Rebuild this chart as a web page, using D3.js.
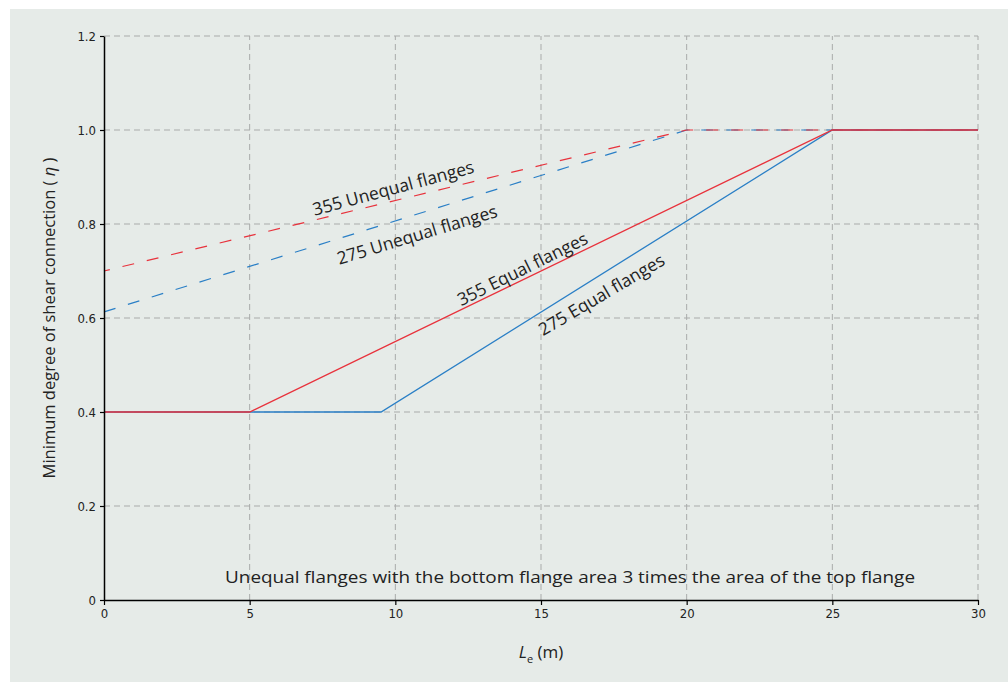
<!DOCTYPE html>
<html><head><meta charset="utf-8">
<script src="https://cdn.jsdelivr.net/npm/d3@7"></script>
<style>
html,body{margin:0;padding:0;background:#fff;}
svg{display:block;}
</style></head>
<body>
<svg id="chart" width="1008" height="682"></svg>
<script>
// ---- data ----
const xTicks = [0, 5, 10, 15, 20, 25, 30];
const yTicks = [0, 0.2, 0.4, 0.6, 0.8, 1.0, 1.2];
const yTickLabels = ["0", "0.2", "0.4", "0.6", "0.8", "1.0", "1.2"];
const unequal275 = [[0, 0.613], [20, 1.0], [30, 1.0]];
const unequal355 = [[0, 0.70], [20, 1.0], [30, 1.0]];
const equal275 = [[0, 0.4], [9.51, 0.4], [25, 1.0], [30, 1.0]];
const equal355 = [[0, 0.4], [5, 0.4], [25, 1.0], [30, 1.0]];
const seriesLabels = [
  {text: "355 Unequal flanges", x: 9.92, y: 0.878, series: unequal355, extra: -1.5},
  {text: "275 Unequal flanges", x: 10.74, y: 0.779, series: unequal275, extra: 0.5},
  {text: "355 Equal flanges", x: 14.35, y: 0.706, series: equal355, extra: -0.5},
  {text: "275 Equal flanges", x: 17.06, y: 0.651, series: equal275, extra: 1.5}
];
const noteText = "Unequal flanges with the bottom flange area 3 times the area of the top flange";

const RED = "#e8323c", BLUE = "#2a7fc6";

const svg = d3.select("#chart");
svg.append("rect").attr("x", 10).attr("y", 9).attr("width", 998).attr("height", 673).attr("fill", "#e6ebe8");

const x = d3.scaleLinear().domain([0, 30]).range([104, 978]);
const y = d3.scaleLinear().domain([0, 1.2]).range([600, 36]);

// grid
const grid = svg.append("g");
grid.selectAll(".hg").data(yTicks.filter(d => d > 0)).join("line")
  .attr("x1", x(0)).attr("x2", x(30)).attr("y1", d => y(d)).attr("y2", d => y(d))
  .attr("stroke", "#a9abaa").attr("stroke-width", 1).attr("stroke-dasharray", "6,4");
grid.selectAll(".vg").data(xTicks.filter(d => d > 0)).join("line")
  .attr("x1", d => x(d)).attr("x2", d => x(d)).attr("y1", y(0)).attr("y2", y(1.2))
  .attr("stroke", "#a9abaa").attr("stroke-width", 1).attr("stroke-dasharray", "6,4");

// lines
const line = d3.line().x(d => x(d[0])).y(d => y(d[1]));
svg.append("path").datum(unequal275).attr("d", line).attr("fill", "none")
  .attr("stroke", BLUE).attr("stroke-width", 1.2).attr("stroke-dasharray", "12,13");
svg.append("path").datum(unequal355).attr("d", line).attr("fill", "none")
  .attr("stroke", RED).attr("stroke-width", 1.2).attr("stroke-dasharray", "12,13").attr("stroke-dashoffset", 6);
svg.append("path").datum(equal275).attr("d", line).attr("fill", "none")
  .attr("stroke", BLUE).attr("stroke-width", 1.3);
svg.append("path").datum(equal355).attr("d", line).attr("fill", "none")
  .attr("stroke", RED).attr("stroke-width", 1.3);

// axes
const fontTick = "'DejaVu Sans Condensed','Liberation Sans Narrow',sans-serif";
const xAxis = svg.append("g").attr("transform", `translate(0,${y(0)})`)
  .call(d3.axisBottom(x).tickValues(xTicks).tickSize(5).tickSizeOuter(0).tickFormat(d3.format("d")));
const yAxis = svg.append("g").attr("transform", `translate(${x(0)},0)`)
  .call(d3.axisLeft(y).tickValues(yTicks).tickSize(4).tickSizeOuter(0).tickFormat((d, i) => yTickLabels[i]));
[xAxis, yAxis].forEach(g => {
  g.select(".domain").attr("stroke", "#000").attr("stroke-width", 1.5);
  g.selectAll(".tick line").attr("stroke", "#000").attr("stroke-width", 1.2);
  g.selectAll("text").attr("font-family", fontTick).attr("font-size", 13).attr("fill", "#222");
});
xAxis.selectAll("text").attr("dy", "0.8em");
yAxis.selectAll("text").attr("dx", "-1px");

// axis titles
const fontMain = "'Open Sans','Noto Sans',sans-serif";
const yt = svg.append("text").attr("transform", `translate(55,${y(0.6)}) rotate(-90)`)
  .attr("text-anchor", "middle").attr("font-family", fontMain).attr("font-size", 16.5).attr("fill", "#222");
yt.append("tspan").text("Minimum degree of shear connection (");
yt.append("tspan").attr("font-style", "italic").text(" η ");
yt.append("tspan").text(")");

const xt = svg.append("text").attr("x", 541).attr("y", 658)
  .attr("text-anchor", "middle").attr("font-family", fontMain).attr("font-size", 17).attr("fill", "#222");
xt.append("tspan").attr("font-style", "italic").text("L");
xt.append("tspan").attr("font-size", 11).attr("dy", 5).text("e");
xt.append("tspan").attr("dy", -5).text(" (m)");

// series labels, rotated along their lines
seriesLabels.forEach(l => {
  const s = l.series;
  let ang = 0;
  for (let i = 0; i < s.length - 1; i++) {
    if (l.x >= s[i][0] && l.x <= s[i + 1][0]) {
      const dx = x(s[i + 1][0]) - x(s[i][0]);
      const dy = y(s[i + 1][1]) - y(s[i][1]);
      ang = Math.atan2(dy, dx) * 180 / Math.PI;
    }
  }
  svg.append("text").attr("transform", `translate(${x(l.x)},${y(l.y)}) rotate(${ang + l.extra})`)
    .attr("text-anchor", "middle").attr("dominant-baseline", "central")
    .attr("font-family", fontMain).attr("font-size", 17.5).attr("fill", "#222").text(l.text);
});

// note
svg.append("text").attr("x", 570).attr("y", 583).attr("text-anchor", "middle")
  .attr("font-family", fontMain).attr("font-size", 17).attr("fill", "#222")
  .attr("textLength", 690).attr("lengthAdjust", "spacingAndGlyphs").text(noteText);
</script>
</body></html>
